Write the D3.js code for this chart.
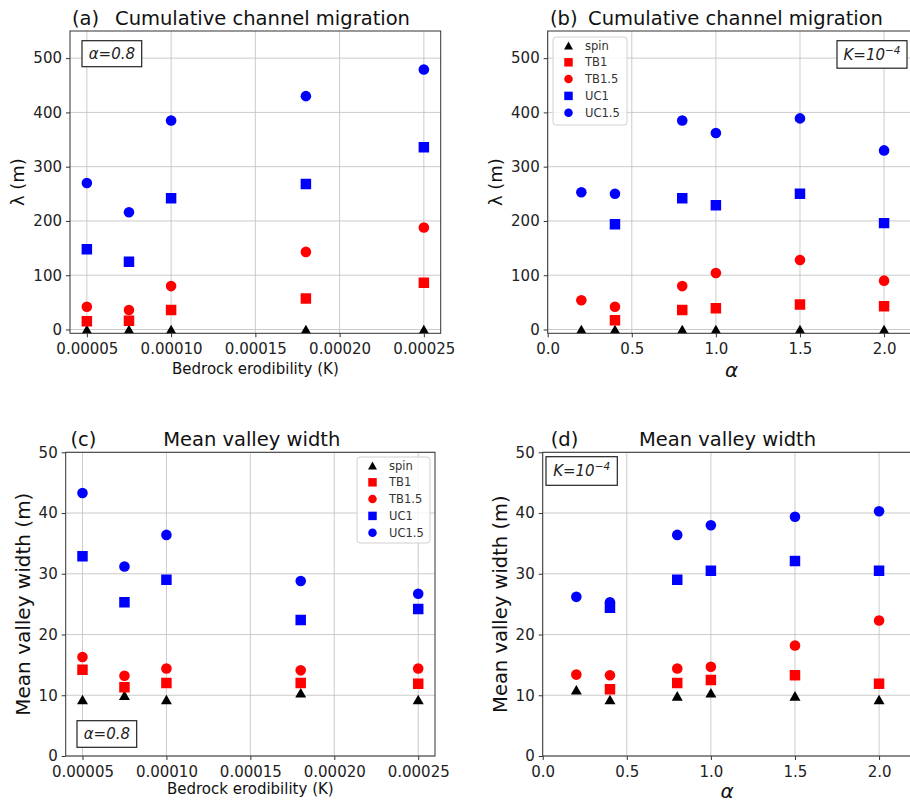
<!DOCTYPE html>
<html>
<head>
<meta charset="utf-8">
<script src="https://cdn.jsdelivr.net/npm/d3@7"></script>
<style>
  body { margin: 0; background: #fff; }
  svg { display: block; font-family: "DejaVu Sans", sans-serif; }
</style>
</head>
<body>
<svg id="fig" width="910" height="803"></svg>
<script>
// ---- data ----
const kValues = [0.00005, 0.000075, 0.0001, 0.00018, 0.00025];
const alphaValues = [0.2, 0.4, 0.8, 1.0, 1.5, 2.0];
const seriesNames = ["spin", "TB1", "TB1.5", "UC1", "UC1.5"];

const kTicks = [0.00005, 0.0001, 0.00015, 0.0002, 0.00025];
const alphaTicks = [0, 0.5, 1, 1.5, 2];
const migTicks = [0, 100, 200, 300, 400, 500];
const widthTicks = [0, 10, 20, 30, 40, 50];

// (a) cumulative migration vs K
const migK_spin = [0, 0, 0, 0, 0];
const migK_TB1 = [15, 16, 36, 57, 86];
const migK_TB15 = [42, 36, 80, 143, 188];
const migK_UC1 = [148, 125, 242, 268, 336];
const migK_UC15 = [270, 216, 385, 430, 479];

// (b) cumulative migration vs alpha
const migA_spin = [0, 0, 0, 0, 0, 0];
const migA_TB1 = [null, 17, 36, 39, 46, 43];
const migA_TB15 = [54, 42, 80, 104, 128, 90];
const migA_UC1 = [null, 194, 242, 229, 250, 196];
const migA_UC15 = [253, 250, 385, 362, 389, 330];

// (c) mean valley width vs K
const widK_spin = [9.3, 10.0, 9.3, 10.4, 9.3];
const widK_TB1 = [14.2, 11.3, 12.0, 12.0, 11.9];
const widK_TB15 = [16.3, 13.2, 14.4, 14.1, 14.4];
const widK_UC1 = [32.9, 25.3, 29.0, 22.4, 24.2];
const widK_UC15 = [43.3, 31.2, 36.4, 28.8, 26.7];

// (d) mean valley width vs alpha
const widA_spin = [10.9, 9.3, 9.9, 10.4, 9.9, 9.3];
const widA_TB1 = [null, 11.0, 12.0, 12.5, 13.3, 11.9];
const widA_TB15 = [13.4, 13.3, 14.4, 14.7, 18.2, 22.3];
const widA_UC1 = [null, 24.4, 29.0, 30.5, 32.1, 30.5];
const widA_UC15 = [26.2, 25.3, 36.4, 38.0, 39.4, 40.3];

// ---- styles ----
// matplotlib-like '^' : centred on its bounding box
const triUp = {
  draw(ctx, size) {
    const w = Math.sqrt(size), h = w * 0.87;
    ctx.moveTo(0, -h / 2);
    ctx.lineTo(w / 2, h / 2);
    ctx.lineTo(-w / 2, h / 2);
    ctx.closePath();
  }
};
const styles = {
  "spin":  { type: triUp, color: "#000000", size: 121, lsize: 80 },
  "TB1":   { type: d3.symbolSquare, color: "#ff0000", size: 110, lsize: 72 },
  "TB1.5": { type: d3.symbolCircle, color: "#ff0000", size: 88, lsize: 57 },
  "UC1":   { type: d3.symbolSquare, color: "#0000ff", size: 110, lsize: 72 },
  "UC1.5": { type: d3.symbolCircle, color: "#0000ff", size: 88, lsize: 57 }
};

const svg = d3.select("#fig");
const fmtK = (d) => d.toFixed(5);
const fmtA = (d) => d.toFixed(1);

let clipId = 0;
const panel = (cfg) => {
  const x = d3.scaleLinear().domain(cfg.xDomain).range([0, cfg.w]);
  const y = d3.scaleLinear().domain(cfg.yDomain).range([cfg.h, 0]);
  const g = svg.append("g").attr("transform", `translate(${cfg.left},${cfg.top})`);

  const id = "clip" + (clipId++);
  g.append("clipPath").attr("id", id)
    .append("rect").attr("width", cfg.w).attr("height", cfg.h);

  // grid
  const grid = g.append("g").attr("stroke", "#b0b0b0").attr("stroke-width", 0.8).attr("opacity", 0.8);
  grid.selectAll(".gx").data(cfg.xTicks).join("line")
    .attr("x1", (d) => x(d)).attr("x2", (d) => x(d)).attr("y1", 0).attr("y2", cfg.h);
  grid.selectAll(".gy").data(cfg.yTicks).join("line")
    .attr("y1", (d) => y(d)).attr("y2", (d) => y(d)).attr("x1", 0).attr("x2", cfg.w);

  // axes
  const xAxisG = g.append("g").attr("transform", `translate(0,${cfg.h})`)
    .call(d3.axisBottom(x).tickValues(cfg.xTicks).tickFormat(cfg.xFmt).tickSize(4).tickPadding(6));
  const yAxisG = g.append("g")
    .call(d3.axisLeft(y).tickValues(cfg.yTicks).tickSize(4).tickPadding(4));
  [xAxisG, yAxisG].forEach((a) => {
    a.select(".domain").remove();
    a.selectAll("line").attr("stroke", "#333");
    a.selectAll("text").attr("fill", "#222").attr("font-size", 15)
      .attr("font-family", "DejaVu Sans");
  });

  // markers
  const marks = g.append("g").attr("clip-path", `url(#${id})`);
  cfg.series.forEach((vals, i) => {
    const st = styles[seriesNames[i]];
    const pts = cfg.xs.map((xv, j) => ({ x: xv, y: vals[j] })).filter((p) => p.y != null);
    marks.selectAll(null).data(pts).join("path")
      .attr("d", d3.symbol().type(st.type).size(st.size))
      .attr("transform", (d) => `translate(${x(d.x)},${y(d.y)})`)
      .attr("fill", st.color);
  });

  // frame
  g.append("rect").attr("width", cfg.w).attr("height", cfg.h)
    .attr("fill", "none").attr("stroke", "#333").attr("stroke-width", 1);

  // titles
  svg.append("text").attr("x", cfg.tagX).attr("y", cfg.titleY)
    .attr("font-size", 19.5).attr("fill", "#111").text(cfg.tag);
  svg.append("text").attr("x", cfg.titleCx).attr("y", cfg.titleY)
    .attr("text-anchor", "middle").attr("font-size", 19.5).attr("fill", "#111").text(cfg.title);

  // axis labels
  svg.append("text")
    .attr("transform", `translate(${cfg.ylabelX},${cfg.top + cfg.h / 2}) rotate(-90)`)
    .attr("text-anchor", "middle").attr("font-size", cfg.ylabelSize).attr("fill", "#111")
    .text(cfg.ylabel);
  svg.append("text").attr("x", cfg.xlabelCx).attr("y", cfg.xlabelY)
    .attr("text-anchor", "middle").attr("font-size", cfg.xlabelSize)
    .attr("font-style", cfg.xlabelItalic ? "italic" : "normal").attr("fill", "#111")
    .text(cfg.xlabel);

  // annotation box
  const n = cfg.note;
  svg.append("rect").attr("x", n.x).attr("y", n.y).attr("width", n.w).attr("height", n.h)
    .attr("fill", "#fff").attr("stroke", "#222").attr("stroke-width", 1.2);
  const nt = svg.append("text").attr("x", n.x + n.w / 2).attr("y", n.y + n.h / 2 + 5.2)
    .attr("text-anchor", "middle").attr("font-size", 15).attr("font-style", "italic").attr("fill", "#222");
  nt.append("tspan").text(n.text);
  if (n.sup) {
    nt.append("tspan").attr("font-size", 10.5).attr("dy", -6).text(n.sup);
  }

  // legend
  if (cfg.legend) {
    const L = cfg.legend;
    svg.append("rect").attr("x", L.x).attr("y", L.y).attr("width", L.w).attr("height", L.h)
      .attr("rx", 3).attr("fill", "#fff").attr("fill-opacity", 0.8)
      .attr("stroke", "#d0d0d0").attr("stroke-width", 1);
    const items = svg.append("g").selectAll("g").data(seriesNames).join("g")
      .attr("transform", (d, i) => `translate(${L.x + 15.5},${L.y + 8.5 + i * 16.8})`);
    items.append("path")
      .attr("d", (d) => d3.symbol().type(styles[d].type).size(styles[d].lsize)())
      .attr("fill", (d) => styles[d].color);
    items.append("text").attr("x", 16.5).attr("y", 4).attr("font-size", 11.5)
      .attr("fill", "#333").text((d) => d);
  }
};

panel({
  left: 70, top: 31, w: 370.7, h: 302.3,
  xDomain: [0.00004, 0.00026], yDomain: [-7, 550],
  xTicks: kTicks, yTicks: migTicks, xFmt: fmtK,
  xs: kValues, series: [migK_spin, migK_TB1, migK_TB15, migK_UC1, migK_UC15],
  tag: "(a)", tagX: 72, title: "Cumulative channel migration", titleCx: 262.5, titleY: 25,
  ylabel: "λ (m)", ylabelX: 24, ylabelSize: 18,
  xlabel: "Bedrock erodibility (K)", xlabelCx: 255.4, xlabelY: 374, xlabelSize: 15,
  note: { text: "α=0.8", x: 82, y: 40.7, w: 59.7, h: 26 }
});

panel({
  left: 547.7, top: 31, w: 370, h: 302.3,
  xDomain: [0, 2.2], yDomain: [-7, 550],
  xTicks: alphaTicks, yTicks: migTicks, xFmt: fmtA,
  xs: alphaValues, series: [migA_spin, migA_TB1, migA_TB15, migA_UC1, migA_UC15],
  tag: "(b)", tagX: 550, title: "Cumulative channel migration", titleCx: 735.5, titleY: 25,
  ylabel: "λ (m)", ylabelX: 502, ylabelSize: 18,
  xlabel: "α", xlabelItalic: true, xlabelCx: 731.7, xlabelY: 377, xlabelSize: 20,
  note: { text: "K=10", sup: "−4", x: 837, y: 40.7, w: 70, h: 27.5 },
  legend: { x: 553, y: 37, w: 74, h: 88 }
});

panel({
  left: 65.7, top: 452.3, w: 369.3, h: 303.7,
  xDomain: [0.00004, 0.00026], yDomain: [0, 50],
  xTicks: kTicks, yTicks: widthTicks, xFmt: fmtK,
  xs: kValues, series: [widK_spin, widK_TB1, widK_TB15, widK_UC1, widK_UC15],
  tag: "(c)", tagX: 70.5, title: "Mean valley width", titleCx: 251.7, titleY: 445.7,
  ylabel: "Mean valley width (m)", ylabelX: 30, ylabelSize: 20,
  xlabel: "Bedrock erodibility (K)", xlabelCx: 250.3, xlabelY: 793.5, xlabelSize: 15,
  note: { text: "α=0.8", x: 77, y: 720.7, w: 59.7, h: 26.6 },
  legend: { x: 357, y: 457, w: 73, h: 86 }
});

panel({
  left: 542.7, top: 452.3, w: 370, h: 303.7,
  xDomain: [0, 2.2], yDomain: [0, 50],
  xTicks: alphaTicks, yTicks: widthTicks, xFmt: fmtA,
  xs: alphaValues, series: [widA_spin, widA_TB1, widA_TB15, widA_UC1, widA_UC15],
  tag: "(d)", tagX: 550.7, title: "Mean valley width", titleCx: 727.5, titleY: 446,
  ylabel: "Mean valley width (m)", ylabelX: 506.7, ylabelSize: 19.5,
  xlabel: "α", xlabelItalic: true, xlabelCx: 727, xlabelY: 798, xlabelSize: 20,
  note: { text: "K=10", sup: "−4", x: 546, y: 456.7, w: 71.3, h: 28.6 }
});
</script>
</body>
</html>
